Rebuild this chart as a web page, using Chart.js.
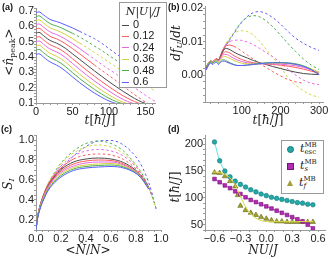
<!DOCTYPE html>
<html>
<head>
<meta charset="utf-8">
<script src="https://cdn.jsdelivr.net/npm/chart.js@4.4.1/dist/chart.umd.min.js"></script>
<style>
body{margin:0;width:336px;height:259px;background:#fff;position:relative;overflow:hidden;font-family:"Liberation Sans",sans-serif}
canvas{position:absolute}
.lab{position:absolute;font:bold 9px "Liberation Sans";color:#111}
.ttl{position:absolute;font:12px "DejaVu Serif";color:#222;white-space:nowrap;transform:translate(-50%,-50%)}
.rot{transform:translate(-50%,-50%) rotate(-90deg)}
.ttl sub{font-size:8px;vertical-align:-2px;font-style:normal}
.legA{position:absolute;left:119px;top:2px;width:46px;height:84px;border:1px solid #999;background:#fff}
.legA .row{position:absolute;left:2px;height:11px;font:11px "Liberation Sans";color:#222;line-height:11px}
.legA .ln{display:inline-block;width:7px;height:0;border-top:1px solid;vertical-align:middle;margin-right:4px}
.legD{position:absolute;left:281px;top:140px;width:41px;height:52px;border:1px solid #999;background:#fff}
.legD .row{position:absolute;left:5px;height:14px;font:italic 11px "DejaVu Serif";color:#222;line-height:14px;white-space:nowrap}
.mk{display:inline-block;vertical-align:middle;margin-right:6px}
.ss{display:inline-block;vertical-align:middle;font:7px "DejaVu Serif";line-height:7px}
</style>
</head>
<body>
<canvas id="chartA" width="168" height="125" style="left:0;top:0"></canvas>
<canvas id="chartB" width="168" height="125" style="left:168px;top:0"></canvas>
<canvas id="chartC" width="172" height="134" style="left:0;top:125px"></canvas>
<canvas id="chartD" width="168" height="134" style="left:168px;top:125px"></canvas>

<div class="lab" style="left:2px;top:2px">(a)</div>
<div class="lab" style="left:168px;top:2px">(b)</div>
<div class="lab" style="left:1px;top:124px">(c)</div>
<div class="lab" style="left:168px;top:124px">(d)</div>

<div class="ttl rot" style="left:9px;top:52px">&lt;<i>n̂</i><sub>peak</sub>&gt;</div>
<div class="ttl" style="left:100px;top:120px"><i>t</i>[<i>ħ</i>/<i>J</i>]</div>
<div class="ttl rot" style="left:176px;top:43px"><i>df</i><sub><i>U</i></sub>/<i>dt</i></div>
<div class="ttl" style="left:268px;top:120px"><i>t</i>[<i>ħ</i>/<i>J</i>]</div>
<div class="ttl rot" style="left:8px;top:184px"><i>S</i><sub><i>I</i></sub></div>
<div class="ttl" style="left:88px;top:250px">&lt;<i>N̂</i>/<i>N</i>&gt;</div>
<div class="ttl rot" style="left:175px;top:187px"><i>t</i>[<i>ħ</i>/<i>J</i>]</div>
<div class="ttl" style="left:263px;top:250px"><i>NU</i>/<i>J</i></div>

<div class="legA" id="legA"></div>
<div class="legD" id="legD"></div>

<script>
// colours of the eleven curves, top curve in (a) first
const curveColors = ['#5c5cff', '#4caf4c', '#d2d23c', '#e46ae4', '#ff5a5a', '#4a4a4a',
                     '#ff5a5a', '#e46ae4', '#d2d23c', '#4caf4c', '#5c5cff'];

// (a) peak occupation vs time
const tA = [0, 4, 10, 16, 22, 28, 34, 40, 50, 60, 70, 80, 90, 100, 110, 120, 130, 140, 150, 160, 165];
const peakA0  = [0.690, 0.695, 0.676, 0.655, 0.640, 0.632, 0.622, 0.610, 0.590, 0.567, 0.543, 0.520, 0.490, 0.455, 0.420, 0.390, 0.360, 0.332, 0.305, 0.280, 0.268];
const peakA1  = [0.664, 0.669, 0.650, 0.628, 0.612, 0.603, 0.592, 0.578, 0.555, 0.530, 0.502, 0.472, 0.442, 0.410, 0.378, 0.347, 0.318, 0.290, 0.264, 0.240, 0.228];
const peakA2  = [0.638, 0.643, 0.623, 0.601, 0.585, 0.575, 0.563, 0.548, 0.520, 0.490, 0.460, 0.430, 0.398, 0.366, 0.334, 0.303, 0.272, 0.242, 0.214, 0.188, 0.176];
const peakA3  = [0.611, 0.616, 0.596, 0.574, 0.557, 0.547, 0.534, 0.518, 0.488, 0.455, 0.420, 0.386, 0.352, 0.320, 0.288, 0.252, 0.217, 0.183, 0.150, 0.120, 0.107];
const peakA4  = [0.583, 0.588, 0.568, 0.546, 0.529, 0.519, 0.505, 0.488, 0.455, 0.420, 0.384, 0.348, 0.313, 0.279, 0.244, 0.208, 0.172, 0.138, 0.106, 0.085, null];
const peakA5  = [0.556, 0.561, 0.541, 0.518, 0.502, 0.491, 0.476, 0.458, 0.421, 0.384, 0.347, 0.310, 0.274, 0.239, 0.206, 0.174, 0.144, 0.117, 0.097, 0.085, 0.080];
const peakA6  = [0.528, 0.533, 0.513, 0.490, 0.474, 0.462, 0.447, 0.428, 0.389, 0.350, 0.312, 0.275, 0.240, 0.206, 0.174, 0.145, 0.120, 0.100, 0.087, null, null];
const peakA7  = [0.500, 0.505, 0.485, 0.462, 0.446, 0.434, 0.418, 0.398, 0.358, 0.318, 0.280, 0.244, 0.210, 0.178, 0.148, 0.122, 0.102, 0.088, null, null, null];
const peakA8  = [0.473, 0.478, 0.458, 0.435, 0.418, 0.405, 0.389, 0.368, 0.327, 0.287, 0.250, 0.215, 0.182, 0.152, 0.125, 0.104, 0.090, null, null, null, null];
const peakA9  = [0.445, 0.450, 0.430, 0.407, 0.390, 0.377, 0.360, 0.339, 0.298, 0.259, 0.223, 0.189, 0.158, 0.131, 0.109, 0.094, null, null, null, null, null];
const peakA10 = [0.416, 0.421, 0.401, 0.378, 0.361, 0.348, 0.331, 0.310, 0.270, 0.232, 0.197, 0.165, 0.137, 0.113, 0.096, 0.086, null, null, null, null, null];
const dashFromA = [60, 50, 60, 70, 80, null, null, null, null, null, null];

// (b) rate of change vs time
const tB = [8, 14, 20, 25, 30, 35, 40, 45, 50, 55, 60, 70, 80, 90, 100, 115, 130, 145, 160, 180, 200, 220, 240, 260, 280, 300];
const rateB0  = [0.0015, 0.0030, 0.0038, 0.0036, 0.0042, 0.0046, 0.0044, 0.0055, 0.0068, 0.0080, 0.0090, 0.0108, 0.0125, 0.0142, 0.0158, 0.0176, 0.0187, 0.0190, 0.0186, 0.0172, 0.0153, 0.0130, 0.0110, 0.0095, 0.0083, 0.0074];
const rateB1  = [0.0018, 0.0032, 0.0040, 0.0037, 0.0043, 0.0047, 0.0044, 0.0056, 0.0070, 0.0082, 0.0092, 0.0110, 0.0128, 0.0145, 0.0160, 0.0173, 0.0178, 0.0175, 0.0165, 0.0145, 0.0120, 0.0094, 0.0070, 0.0048, 0.0030, 0.0017];
const rateB2  = [0.0020, 0.0034, 0.0041, 0.0038, 0.0044, 0.0048, 0.0045, 0.0057, 0.0072, 0.0085, 0.0096, 0.0113, 0.0125, 0.0131, 0.0133, 0.0130, 0.0120, 0.0103, 0.0082, 0.0054, 0.0025, -0.0008, -0.0030, -0.0047, -0.0059, -0.0066];
const rateB3  = [0.0021, 0.0035, 0.0042, 0.0039, 0.0045, 0.0049, 0.0046, 0.0058, 0.0073, 0.0085, 0.0093, 0.0101, 0.0104, 0.0105, 0.0104, 0.0099, 0.0091, 0.0081, 0.0070, 0.0055, 0.0038, 0.0018, 0.0000, -0.0015, -0.0024, -0.0028];
const rateB4  = [0.0022, 0.0036, 0.0043, 0.0040, 0.0046, 0.0049, 0.0046, 0.0058, 0.0072, 0.0082, 0.0088, 0.0090, 0.0086, 0.0080, 0.0072, 0.0060, 0.0048, 0.0036, 0.0025, 0.0011, -0.0002, -0.0013, -0.0020, -0.0024, null, null];
const rateB5  = [0.0022, 0.0035, 0.0042, 0.0039, 0.0045, 0.0048, 0.0045, 0.0056, 0.0069, 0.0078, 0.0080, 0.0076, 0.0069, 0.0063, 0.0058, 0.0051, 0.0044, 0.0038, 0.0033, 0.0026, 0.0020, 0.0014, 0.0009, 0.0005, 0.0003, 0.0002];
const rateB6  = [0.0024, 0.0037, 0.0043, 0.0040, 0.0046, 0.0047, 0.0044, 0.0053, 0.0063, 0.0069, 0.0070, 0.0066, 0.0058, 0.0052, 0.0047, 0.0041, 0.0037, 0.0035, 0.0034, 0.0032, 0.0030, 0.0027, 0.0023, 0.0018, 0.0012, 0.0006];
const rateB7  = [0.0025, 0.0037, 0.0043, 0.0039, 0.0045, 0.0046, 0.0042, 0.0050, 0.0058, 0.0062, 0.0062, 0.0057, 0.0050, 0.0045, 0.0041, 0.0037, 0.0035, 0.0034, 0.0034, 0.0034, 0.0033, 0.0031, 0.0028, 0.0023, 0.0016, 0.0008];
const rateB8  = [0.0026, 0.0037, 0.0042, 0.0038, 0.0044, 0.0045, 0.0040, 0.0047, 0.0053, 0.0056, 0.0055, 0.0050, 0.0044, 0.0039, 0.0036, 0.0034, 0.0033, 0.0034, 0.0035, 0.0036, 0.0036, 0.0035, 0.0032, 0.0027, 0.0019, 0.0009];
const rateB9  = [0.0026, 0.0036, 0.0041, 0.0036, 0.0041, 0.0042, 0.0036, 0.0042, 0.0046, 0.0046, 0.0043, 0.0037, 0.0032, 0.0029, 0.0029, 0.0031, 0.0033, 0.0035, 0.0037, 0.0038, 0.0038, 0.0037, 0.0034, 0.0028, 0.0017, 0.0002];
const rateB10 = [0.0017, 0.0030, 0.0036, 0.0032, 0.0037, 0.0038, 0.0032, 0.0038, 0.0042, 0.0042, 0.0040, 0.0035, 0.0031, 0.0029, 0.0029, 0.0030, 0.0032, 0.0034, 0.0036, 0.0037, 0.0037, 0.0036, 0.0032, 0.0026, 0.0016, 0.0001];
const dashFromB = [60, 55, 60, 70, 80, null, null, null, null, null, null];

// (c) entropy vs escaped fraction
const xC = [0, 0.01, 0.03, 0.06, 0.1, 0.15, 0.2, 0.3, 0.4, 0.5, 0.6, 0.7, 0.8, 0.85, 0.9, 0.93, 0.96];
const entC0  = [0.10, 0.20, 0.31, 0.42, 0.53, 0.63, 0.71, 0.84, 0.935, 0.99, 0.995, 0.95, 0.83, 0.73, 0.58, 0.46, 0.31];
const entC1  = [0.10, 0.21, 0.33, 0.45, 0.57, 0.68, 0.77, 0.89, 0.965, 0.99, 0.965, 0.89, 0.75, 0.66, 0.53, 0.43, 0.32];
const entC2  = [0.10, 0.21, 0.33, 0.45, 0.57, 0.67, 0.76, 0.87, 0.93, 0.95, 0.93, 0.865, 0.74, 0.65, 0.53, 0.43, 0.32];
const entC3  = [0.10, 0.21, 0.33, 0.45, 0.56, 0.66, 0.74, 0.84, 0.89, 0.905, 0.89, 0.84, 0.73, 0.645, 0.53, 0.44, null];
const entC4  = [0.10, 0.21, 0.33, 0.45, 0.56, 0.65, 0.72, 0.81, 0.85, 0.86, 0.85, 0.805, 0.71, 0.635, 0.53, 0.44, null];
const entC5  = [0.10, 0.21, 0.33, 0.44, 0.55, 0.64, 0.705, 0.78, 0.81, 0.82, 0.81, 0.775, 0.695, 0.625, 0.53, null, null];
const entC6  = [0.10, 0.21, 0.33, 0.44, 0.545, 0.63, 0.69, 0.76, 0.79, 0.80, 0.795, 0.76, 0.685, 0.62, 0.525, null, null];
const entC7  = [0.10, 0.21, 0.32, 0.43, 0.535, 0.615, 0.675, 0.74, 0.77, 0.78, 0.78, 0.75, 0.68, 0.615, 0.52, null, null];
const entC8  = [0.10, 0.20, 0.315, 0.42, 0.52, 0.60, 0.66, 0.725, 0.75, 0.76, 0.765, 0.74, 0.675, 0.61, 0.52, null, null];
const entC9  = [0.10, 0.20, 0.31, 0.41, 0.51, 0.59, 0.645, 0.71, 0.735, 0.745, 0.75, 0.73, 0.67, 0.61, 0.515, null, null];
const entC10 = [0.10, 0.20, 0.30, 0.40, 0.50, 0.575, 0.63, 0.695, 0.72, 0.73, 0.735, 0.72, 0.665, 0.605, 0.51, null, null];
const dashFromC = [0.15, 0.1, 0.15, 0.2, 0.3, null, null, null, null, null, null];

// (d) characteristic times vs interaction
const xD = [-0.6, -0.54, -0.48, -0.42, -0.36, -0.3, -0.24, -0.18, -0.12, -0.06, 0, 0.06, 0.12, 0.18, 0.24, 0.3, 0.36, 0.42, 0.48, 0.54];
const tEsc = [204, 169, 150, 139, 131, 125, 120, 115, 111, 107, 104, 101, 99, 97, 95, 93, 91, 90, 88, 87];
const tS   = [135, 129, 123, 118, 112, 107, 101, 96, 92, 88, 84, 80, 76, 72, 68, 64, 60, 56, 50, 43];
const xF   = [-0.6, -0.54, -0.48, -0.42, -0.36, -0.33, -0.3, -0.24, -0.18, -0.12, -0.06, 0, 0.06, 0.12, 0.18, 0.24, 0.3, 0.36, 0.42, 0.48, 0.54];
const tF   = [147, 146, 140, 131, 121, 105, 85, 77, 72, 68, 64, 61, 58, 56, 56, 55, 55, 55, 55, 55, 55];
const fitX = [-0.62, -0.58, -0.54, -0.5, -0.46, -0.42, -0.38, -0.34, -0.3, -0.26, -0.22, -0.18, -0.14, -0.1, -0.06, -0.02, 0.05, 0.15, 0.25, 0.35, 0.45, 0.54];
const fitF = [148, 148, 147, 145, 142, 137, 129, 117, 103, 89, 78, 70, 64, 60, 57.5, 56, 55.5, 55.5, 55.5, 55.5, 56, 56];

// tick labels
const ticksAx = [0, 50, 100, 150];
const ticksAy = [0.1, 0.2, 0.3, 0.4, 0.5, 0.6, 0.7];
const ticksBx = [100, 200, 300];
const ticksBy = [0, 0.01, 0.02];
const ticksCx = [0, 0.2, 0.4, 0.6, 0.8, 1.0];
const ticksCy = [0.2, 0.4, 0.6, 0.8, 1.0];
const ticksDx = [-0.6, -0.3, 0, 0.3, 0.6];
const ticksDy = [50, 100, 150, 200];

const legendLabelsA = ['0', '0.12', '0.24', '0.36', '0.48', '0.6'];
const legendColorsA = ['#4a4a4a', '#ff5a5a', '#e46ae4', '#d2d23c', '#4caf4c', '#5c5cff'];

function points(xs, ys){
    let pts = [];
    for(let i = 0; i < xs.length; i++){
        if(ys[i] !== null) pts.push({x: xs[i], y: ys[i]});
    }
    return pts;
}

function curve(xs, ys, color, dashFrom){
    return {
        data: points(xs, ys),
        showLine: true,
        borderColor: color,
        borderWidth: 1,
        pointRadius: 0,
        cubicInterpolationMode: 'monotone',
        segment: {
            borderDash: ctx => (dashFrom !== null && ctx.p0.parsed.x >= dashFrom - 1e-9) ? [2.5, 2.5] : undefined
        }
    };
}

function axis(min, max, step, major, fmt, size){
    return {
        type: 'linear',
        min: min,
        max: max,
        afterBuildTicks: s => {
            let t = [];
            for(let v = Math.ceil(min / step - 1e-9) * step; v <= max + 1e-9; v += step){
                t.push({value: +v.toFixed(6)});
            }
            s.ticks = t;
        },
        afterFit: s => {
            if(s.isHorizontal()) s.height = size; else s.width = size;
        },
        ticks: {
            autoSkip: false,
            maxRotation: 0,
            padding: 0,
            color: '#222',
            font: {family: 'Liberation Sans', size: 11},
            callback: v => {
                let m = major.find(x => Math.abs(x - v) < 1e-9);
                return m === undefined ? '' : fmt(m);
            }
        },
        grid: {drawOnChartArea: false, tickLength: 2, color: '#999'},
        border: {color: '#999'}
    };
}

function makeChart(id, datasets, xAxis, yAxis, pad){
    return new Chart(document.getElementById(id), {
        type: 'scatter',
        data: {datasets: datasets},
        options: {
            responsive: false,
            animation: false,
            events: [],
            layout: {padding: pad},
            plugins: {legend: {display: false}, tooltip: {enabled: false}},
            scales: {x: xAxis, y: yAxis}
        }
    });
}

const seriesA = [peakA0, peakA1, peakA2, peakA3, peakA4, peakA5, peakA6, peakA7, peakA8, peakA9, peakA10];
const seriesB = [rateB0, rateB1, rateB2, rateB3, rateB4, rateB5, rateB6, rateB7, rateB8, rateB9, rateB10];
const seriesC = [entC0, entC1, entC2, entC3, entC4, entC5, entC6, entC7, entC8, entC9, entC10];

let dsA = [], dsB = [], dsC = [];
// draw solid curves first, dashed ones on top
for(let i = 10; i >= 0; i--){
    dsA.push(curve(tA, seriesA[i], curveColors[i], dashFromA[i]));
    dsB.push(curve(tB, seriesB[i], curveColors[i], dashFromB[i]));
    dsC.push(curve(xC, seriesC[i], curveColors[i], dashFromC[i]));
}

makeChart('chartA', dsA,
    axis(0, 163, 10, ticksAx, v => String(v), 22),
    axis(0.1, 0.72, 0.02, ticksAy, v => v.toFixed(1), 36),
    {left: 0, right: 13, top: 8, bottom: 0});

makeChart('chartB', dsB,
    axis(5, 310, 20, ticksBx, v => String(v), 23),
    axis(-0.008, 0.0205, 0.002, ticksBy, v => v.toFixed(2), 37),
    {left: 0, right: 13, top: 5, bottom: 0});

makeChart('chartC', dsC,
    axis(0, 1.0, 0.05, ticksCx, v => v.toFixed(1), 29),
    axis(0.1, 1.05, 0.05, ticksCy, v => v.toFixed(1), 36),
    {left: 0, right: 11, top: 10, bottom: 0});

const fmtD = v => (v < 0 ? '\u2212' : '') + Math.abs(v).toFixed(1);

makeChart('chartD', [
    {data: points(fitX, fitF), showLine: true, borderColor: '#d8d84a', borderWidth: 1, pointRadius: 0, cubicInterpolationMode: 'monotone'},
    {data: points(xD, tEsc), showLine: true, borderColor: '#5ee0e0', borderWidth: 1, cubicInterpolationMode: 'monotone',
     pointStyle: 'circle', pointRadius: 2.3, pointBackgroundColor: '#22a8a8', pointBorderColor: '#127878', pointBorderWidth: 0.6},
    {data: points(xD, tS), showLine: true, borderColor: '#d24ad2', borderWidth: 1, cubicInterpolationMode: 'monotone',
     pointStyle: 'rect', pointRadius: 2.6, pointBackgroundColor: '#b02cb0', pointBorderColor: '#7a107a', pointBorderWidth: 0.6},
    {data: points(xF, tF), showLine: false,
     pointStyle: 'triangle', pointRadius: 3, pointBackgroundColor: '#a0a032', pointBorderColor: '#66661a', pointBorderWidth: 0.6}
], axis(-0.71, 0.68, 0.1, ticksDx, fmtD, 29),
   axis(40, 217, 10, ticksDy, v => String(v), 37),
   {left: 0, right: 11, top: 10, bottom: 0});

// legend (a)
let legA = `<div style="position:absolute;left:0;width:46px;top:2px;text-align:center;font:italic 11px 'DejaVu Serif';color:#222">N|U|/J</div>`;
for(let i = 0; i < legendLabelsA.length; i++){
    legA += `<div class="row" style="top:${16 + i * 11.4}px"><span class="ln" style="border-color:${legendColorsA[i]}"></span>${legendLabelsA[i]}</div>`;
}
document.getElementById('legA').innerHTML = legA;

// legend (d)
document.getElementById('legD').innerHTML = `
    <div class="row" style="top:1px"><span class="mk" style="width:5px;height:5px;border-radius:50%;background:#22a8a8;border:0.6px solid #127878"></span>t<span class="ss">MB<br>esc</span></div>
    <div class="row" style="top:18px"><span class="mk" style="width:5px;height:5px;background:#b02cb0;border:0.6px solid #7a107a"></span>t<span class="ss">MB<br><i>s</i></span></div>
    <div class="row" style="top:35px"><span class="mk" style="width:0;height:0;border-left:3px solid transparent;border-right:3px solid transparent;border-bottom:6px solid #a0a032"></span>t<span class="ss">MB<br><i>f</i></span></div>`;
</script>
</body>
</html>
